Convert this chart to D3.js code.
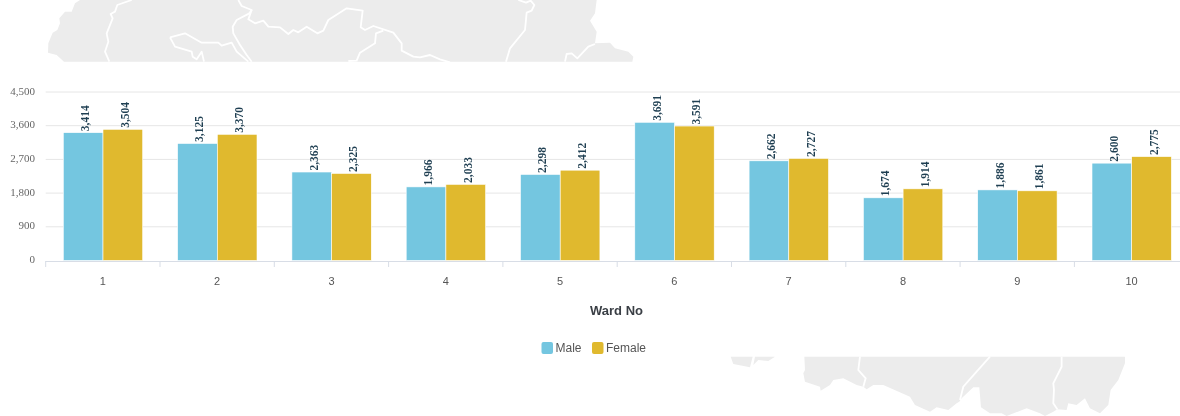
<!DOCTYPE html>
<html><head><meta charset="utf-8">
<script src="https://cdn.jsdelivr.net/npm/d3@7"></script>
<style>html,body{margin:0;padding:0;background:#fff;overflow:hidden}svg{display:block;filter:blur(.45px)}</style>
</head><body><svg id="c" width="1180" height="416"></svg>
<script>
const wards = ["1","2","3","4","5","6","7","8","9","10"];
const maleValues = [3414,3125,2363,1966,2298,3691,2662,1674,1886,2600];
const femaleValues = [3504,3370,2325,2033,2412,3591,2727,1914,1861,2775];
const yTicks = [0,900,1800,2700,3600,4500];
const seriesNames = ["Male","Female"];
const seriesColors = ["#74c6e0","#e0b92e"];
const axisTitle = "Ward No";

// Decorative background map fragments: [crop x offset, points in 3x crop coordinates]
const crop = (off, pts) => pts.map(([a,b]) => [off + a/3, b/3]);
const topMapOutline = [
 ...crop(40,[[120,0],[105,10],[95,35],[75,35],[58,55],[60,70],[52,90],[38,98],[25,130],[24,158],[50,165],[72,185]]),
 ...crop(440,[[577,185],[580,170],[565,155],[525,145],[510,128],[465,130],[470,95],[450,62],[465,40],[470,0]])
];
const topMapBorders = [
 crop(40,[[275,0],[232,15],[225,35],[212,42],[218,55],[200,100],[205,125],[195,155],[208,185]]),
 crop(40,[[390,112],[435,100],[485,128],[535,128],[545,137],[575,128],[590,155],[625,185]]),
 crop(40,[[390,112],[405,140],[455,155],[458,170],[470,178],[485,155],[492,185]]),
 crop(230,[[25,0],[35,18],[65,30],[58,40],[20,60],[8,80],[10,100],[30,135],[50,165],[65,185]]),
 crop(230,[[65,30],[55,58],[75,70],[100,62],[115,80],[150,82],[175,102],[190,90],[205,97],[230,80],[262,100],[280,92],[295,60],[350,25],[398,32],[392,82],[405,90],[430,78],[490,98],[515,130],[515,152],[550,170],[570,172],[600,165],[630,178],[660,187]]),
 crop(230,[[460,92],[438,100],[435,130],[390,158],[380,182],[355,183]]),
 crop(440,[[235,0],[258,8],[272,2],[283,15],[275,32],[260,38],[255,90],[210,145],[198,185]]),
 crop(440,[[375,185],[380,162],[395,160],[412,175],[445,140],[465,132]])
];
const bottomMapPieces = [
 [[92,20],[100,42],[150,52],[158,20]],
 [[160,45],[175,30],[205,33],[225,20],[165,20]],
 [[313,20],[315,60],[310,70],[315,95],[360,110],[362,122],[390,105],[400,90],[430,85],[470,105],[490,110],[500,118],[520,105],[550,105],[630,140],[645,165],[690,185],[710,172],[745,180],[770,160],[778,155],[785,145],[820,112],[838,112],[843,172],[870,190],[905,190],[920,198],[980,175],[1020,190],[1035,198],[1060,185],[1072,178],[1100,180],[1105,160],[1130,165],[1155,145],[1170,175],[1200,190],[1225,165],[1232,120],[1255,90],[1275,40],[1275,20]]
];
const bottomMapBorders = [
 [[480,20],[475,60],[497,85],[490,110]],
 [[870,20],[830,65],[790,110],[780,150]],
 [[1085,20],[1085,50],[1060,100],[1062,120],[1060,160],[1072,178]]
];

const svg = d3.select("#c");
const line = d3.line(), closed = p => line(p) + "Z";
const mapFill = "#ececec";

const topMap = svg.append("g");
topMap.append("path").attr("d",closed(topMapOutline)).attr("fill",mapFill);
topMap.selectAll(".b").data(topMapBorders).join("path").attr("d",line).attr("fill","none")
  .attr("stroke","#fff").attr("stroke-width",1.8).attr("stroke-linejoin","round");
// the map image stops in a straight cut above the chart
svg.append("rect").attr("x",0).attr("y",62).attr("width",1180).attr("height",30).attr("fill","#fff");

const botMap = svg.append("g").attr("transform","translate(700,350) scale(0.3333)");
botMap.selectAll(".p").data(bottomMapPieces).join("path").attr("d",closed).attr("fill",mapFill);
botMap.selectAll(".b").data(bottomMapBorders).join("path").attr("d",line).attr("fill","none")
  .attr("stroke","#fff").attr("stroke-width",1.8).attr("vector-effect","non-scaling-stroke");

const x0 = d3.scaleBand().domain(wards).range([45.7,1188.7]);
const x1 = d3.scaleBand().domain(seriesNames).range([17.6,97]);
const y = d3.scaleLinear().domain([0,4500]).range([260.5,92]);

// grid
svg.append("g").selectAll("line").data(yTicks.slice(1)).join("line")
  .attr("x1",45.7).attr("x2",1180).attr("y1",d=>y(d)).attr("y2",d=>y(d))
  .attr("stroke","#e6e6e6").attr("stroke-width",1);

// y tick labels
svg.append("g").selectAll("text").data(yTicks).join("text")
  .attr("x",35).attr("y",d=>y(d)+2.5).attr("text-anchor","end")
  .attr("font-family","Liberation Serif").attr("font-size",11).attr("fill","#666")
  .text(d3.format(","));

// bars + labels
const series = [maleValues,femaleValues];
seriesNames.forEach((name,si)=>{
  const g = svg.append("g");
  const rows = wards.map((w,i)=>({w,v:series[si][i]}));
  g.selectAll("rect").data(rows).join("rect")
    .attr("x",d=>x0(d.w)+x1(name)).attr("width",x1.bandwidth())
    .attr("y",d=>y(d.v)).attr("height",d=>y(0)-y(d.v))
    .attr("fill",seriesColors[si]).attr("stroke","#fff").attr("stroke-width",.6);
  g.selectAll("text").data(rows).join("text")
    .attr("transform",d=>`translate(${x0(d.w)+x1(name)+x1.bandwidth()/2+6},${y(d.v)-1.5}) rotate(-90)`)
    .attr("font-family","Liberation Serif").attr("font-weight","bold").attr("font-size",11.5)
    .attr("fill","#1f3f52").text(d=>d3.format(",")(d.v));
});

// x axis
const ax = svg.append("g").attr("transform","translate(0,261)")
  .call(d3.axisBottom(x0).tickSize(0).tickPadding(16));
ax.select(".domain").attr("stroke","#d8dde6").attr("d","M45.7,0.5H1180");
ax.selectAll("text").attr("font-family","Liberation Sans").attr("font-size",11).attr("fill","#555");
svg.append("g").selectAll("line").data(wards).join("line")
  .attr("x1",d=>x0(d)).attr("x2",d=>x0(d)).attr("y1",261).attr("y2",267)
  .attr("stroke","#d8dde6");

svg.append("text").attr("x",616.5).attr("y",315).attr("text-anchor","middle")
  .attr("font-family","Liberation Sans").attr("font-weight","bold").attr("font-size",13)
  .attr("fill","#3a3f45").text(axisTitle);

// legend
const legendX = [541.5,592];
const leg = svg.append("g").selectAll("g").data(seriesNames).join("g")
  .attr("transform",(d,i)=>`translate(${legendX[i]},342)`);
leg.append("rect").attr("width",11.5).attr("height",12).attr("rx",2).attr("fill",(d,i)=>seriesColors[i]);
leg.append("text").attr("x",14).attr("y",10).attr("font-family","Liberation Sans").attr("font-size",12)
  .attr("fill","#555").text(d=>d);
</script></body></html>
